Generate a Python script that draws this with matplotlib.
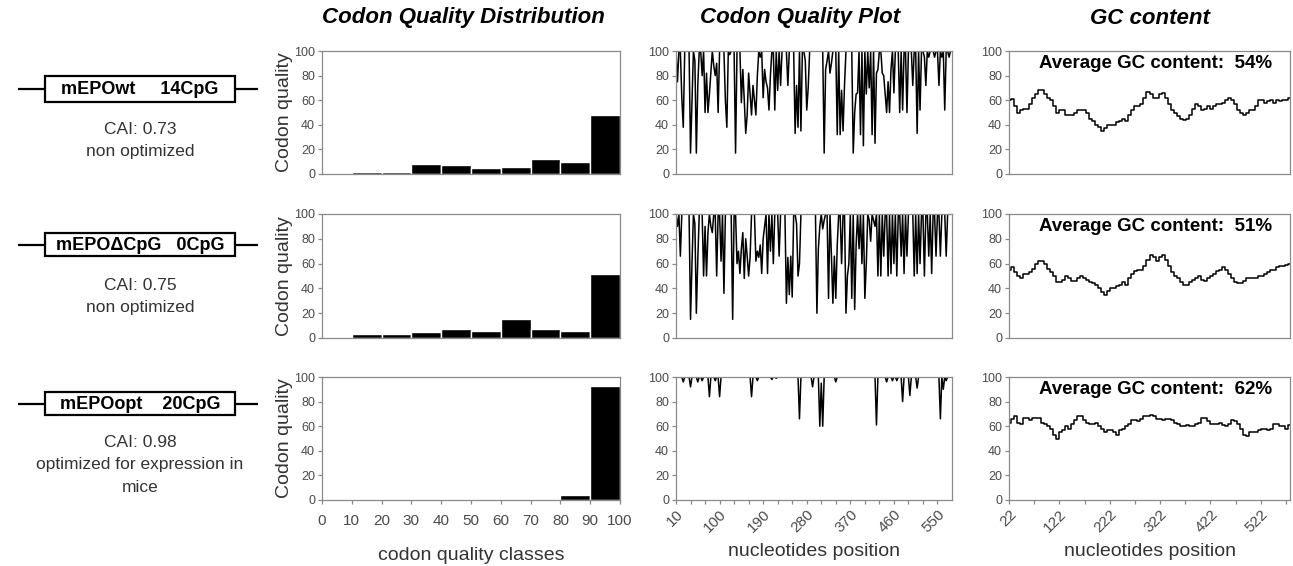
import numpy as np
import matplotlib
matplotlib.use('Agg')
import matplotlib.pyplot as plt
from matplotlib.patches import Rectangle

plt.rcParams['font.family'] = ['Liberation Sans', 'DejaVu Sans']

# ---- data ----
constructs = ['mEPOwt     14CpG', 'mEPOΔCpG   0CpG', 'mEPOopt    20CpG']
cai_text = ['CAI: 0.73\nnon optimized', 'CAI: 0.75\nnon optimized',
            'CAI: 0.98\noptimized for expression in\nmice']
gc_avg = [54, 51, 62]

classes = [0, 10, 20, 30, 40, 50, 60, 70, 80, 90]
dist_wt = [0, 2, 2, 8, 7, 5, 6, 12, 10, 48]
dist_dcpg = [0, 3, 3, 5, 7, 6, 15, 7, 6, 52]
dist_opt = [0, 0, 0, 0, 0, 1, 1, 0, 4, 93]

cq_pos = np.arange(10, 580, 3)
cq_wt = [100, 75, 100, 100, 62, 38, 100, 100, 100, 100,
         17, 60, 100, 92, 17, 72, 100, 100, 80, 100,
         50, 82, 50, 65, 82, 100, 88, 80, 90, 50,
         100, 100, 100, 100, 60, 38, 100, 97, 100, 100,
         100, 17, 100, 100, 100, 58, 85, 60, 33, 48,
         82, 65, 48, 72, 60, 48, 80, 100, 95, 100,
         62, 85, 75, 70, 52, 80, 100, 100, 52, 100,
         68, 100, 72, 100, 100, 100, 100, 72, 100, 100,
         100, 100, 33, 72, 38, 100, 35, 100, 100, 92,
         52, 70, 100, 100, 100, 100, 100, 100, 100, 100,
         100, 100, 17, 85, 92, 100, 82, 90, 100, 100,
         100, 32, 100, 32, 68, 35, 72, 100, 100, 100,
         100, 100, 17, 50, 65, 66, 100, 32, 100, 23,
         100, 65, 100, 70, 100, 32, 100, 25, 82, 85,
         100, 100, 82, 80, 65, 50, 75, 50, 85, 100,
         66, 100, 100, 100, 50, 100, 52, 100, 100, 50,
         100, 100, 100, 72, 100, 100, 33, 100, 52, 100,
         100, 95, 72, 100, 95, 100, 100, 100, 95, 100,
         100, 72, 100, 95, 100, 52, 100, 100, 95, 100]
cq_dcpg = [100, 90, 100, 66, 100, 100, 100, 100, 100, 100,
           15, 60, 100, 92, 20, 63, 100, 100, 100, 50,
           90, 50, 85, 100, 90, 85, 100, 100, 50, 100,
           100, 62, 100, 36, 100, 100, 100, 100, 100, 15,
           100, 100, 60, 70, 52, 72, 85, 48, 80, 66,
           50, 65, 100, 100, 100, 62, 70, 65, 75, 52,
           80, 90, 100, 52, 100, 70, 100, 60, 100, 100,
           100, 66, 100, 100, 100, 100, 28, 65, 35, 66,
           33, 100, 100, 92, 50, 60, 100, 100, 100, 100,
           100, 100, 100, 100, 100, 100, 100, 20, 72, 90,
           100, 88, 95, 100, 100, 32, 100, 66, 28, 66,
           32, 75, 100, 100, 60, 100, 100, 20, 50, 60,
           100, 32, 100, 23, 75, 100, 72, 100, 60, 100,
           32, 60, 100, 95, 78, 100, 95, 90, 100, 50,
           100, 50, 100, 66, 100, 100, 50, 100, 52, 100,
           60, 100, 50, 100, 100, 66, 100, 52, 100, 66,
           100, 100, 100, 100, 50, 100, 52, 100, 60, 100,
           100, 50, 100, 100, 66, 100, 52, 100, 100, 66,
           100, 100, 66, 100, 100, 100, 66, 100, 100, 100]
cq_opt = [100, 100, 100, 100, 100, 96, 100, 100, 100, 100,
          92, 100, 100, 100, 100, 96, 100, 100, 97, 100,
          100, 100, 100, 84, 100, 100, 100, 97, 100, 100,
          84, 100, 100, 100, 100, 100, 100, 100, 100, 100,
          100, 100, 100, 100, 100, 100, 100, 100, 100, 100,
          100, 100, 84, 100, 100, 100, 97, 100, 100, 100,
          100, 100, 100, 100, 100, 100, 98, 100, 100, 99,
          100, 100, 100, 100, 100, 100, 100, 100, 100, 100,
          100, 100, 100, 100, 100, 66, 100, 100, 100, 100,
          100, 100, 100, 100, 92, 100, 100, 100, 100, 60,
          95, 60, 100, 100, 100, 100, 100, 100, 100, 100,
          96, 100, 100, 100, 100, 100, 100, 100, 100, 100,
          100, 100, 100, 100, 100, 100, 100, 100, 100, 100,
          100, 100, 100, 100, 100, 100, 100, 100, 61, 100,
          100, 100, 100, 100, 100, 96, 100, 100, 100, 97,
          100, 100, 97, 100, 100, 100, 80, 100, 100, 100,
          100, 85, 100, 100, 100, 100, 91, 100, 100, 100,
          100, 100, 100, 100, 100, 100, 100, 100, 100, 100,
          100, 100, 66, 100, 90, 100, 97, 100, 100, 100]

gc_pos = np.arange(22, 586, 6)
gc_wt = [60, 61, 55, 50, 52, 53, 53, 57, 62, 65, 68, 68, 65, 62, 60, 55, 50, 52, 52, 48,
         48, 48, 50, 52, 52, 52, 50, 45, 43, 40, 38, 35, 37, 40, 40, 40, 42, 43, 45, 43,
         48, 52, 55, 55, 57, 62, 67, 65, 62, 62, 65, 66, 62, 57, 52, 50, 47, 45, 44, 45,
         48, 53, 57, 55, 52, 53, 55, 53, 55, 57, 57, 58, 60, 62, 60, 57, 52, 50, 48, 50,
         52, 52, 55, 60, 60, 58, 59, 60, 58, 60, 59, 60, 60, 62]
gc_dcpg = [55, 57, 53, 50, 48, 52, 52, 53, 56, 60, 62, 62, 60, 56, 53, 50, 45, 45, 47, 50,
           48, 46, 46, 48, 50, 48, 47, 45, 44, 43, 40, 37, 35, 38, 40, 40, 42, 43, 45, 43,
           48, 52, 54, 55, 55, 58, 63, 67, 65, 62, 65, 67, 63, 58, 53, 50, 48, 45, 43, 43,
           45, 47, 48, 50, 47, 46, 48, 50, 52, 54, 55, 57, 55, 52, 48, 45, 44, 44, 46, 48,
           48, 48, 48, 50, 50, 52, 53, 55, 55, 57, 58, 58, 59, 60]
gc_opt = [63, 66, 68, 63, 62, 67, 67, 65, 67, 67, 67, 63, 62, 60, 58, 53, 50, 55, 57, 60,
          58, 62, 65, 68, 68, 65, 63, 62, 62, 63, 60, 58, 55, 57, 57, 55, 53, 57, 58, 60,
          62, 65, 65, 64, 66, 68, 68, 69, 68, 66, 66, 65, 66, 66, 65, 63, 62, 60, 60, 61,
          60, 60, 62, 63, 67, 67, 64, 62, 62, 62, 63, 61, 60, 62, 65, 64, 62, 58, 53, 52,
          55, 55, 55, 57, 58, 58, 57, 58, 62, 62, 60, 60, 58, 61]

dists = [dist_wt, dist_dcpg, dist_opt]
cqs = [cq_wt, cq_dcpg, cq_opt]
gcs = [gc_wt, gc_dcpg, gc_opt]

W, H = 1293, 566
fig = plt.figure(figsize=(W / 100, H / 100), dpi=100)

def px(x0, y0, x1, y1):
    # pixel box -> figure fraction rect
    return [x0 / W, 1 - y1 / H, (x1 - x0) / W, (y1 - y0) / H]

rows_y = [(51, 174), (214, 338), (377, 500)]
col_x = [(322, 620), (676, 952), (1009, 1290)]

grey = '#8a8a8a'
tcol = '#4a4a4a'
dark = '#333333'

def style(ax):
    for s in ax.spines.values():
        s.set_color(grey)
        s.set_linewidth(0.9)
    ax.tick_params(axis='both', which='both', color=grey, labelcolor=tcol,
                   labelsize=9, direction='out', length=3, width=0.9, pad=2)

def rotate_labels(ax):
    for lab in ax.get_xticklabels():
        lab.set_rotation(45)
        lab.set_ha('right')
        lab.set_rotation_mode('anchor')
        lab.set_fontsize(11)
        lab.set_color(tcol)

for r in range(3):
    y0, y1 = rows_y[r]
    last = r == 2

    # distribution
    ax = fig.add_axes(px(col_x[0][0], y0, col_x[0][1], y1))
    ax.bar(classes, dists[r], width=10, align='edge', color='black',
           edgecolor='white', linewidth=1)
    ax.set_xlim(0, 100)
    ax.set_ylim(0, 100)
    ax.set_yticks(range(0, 101, 20))
    ax.set_xticks(range(0, 101, 10))
    style(ax)
    ax.tick_params(axis='x', labelsize=11, pad=7)
    if not last:
        ax.tick_params(axis='x', length=0, labelbottom=False)
    ax.set_ylabel('Codon quality', fontsize=14, color=dark, labelpad=1)
    if last:
        ax.set_xlabel('codon quality classes', fontsize=14, color=dark, labelpad=14)

    # codon quality plot
    ax = fig.add_axes(px(col_x[1][0], y0, col_x[1][1], y1))
    ax.plot(cq_pos, cqs[r], color='black', lw=1.1)
    ax.set_xlim(10, 580)
    ax.set_ylim(0, 100)
    ax.set_yticks(range(0, 101, 20))
    ax.set_xticks(range(10, 580, 90))
    ax.set_xticks(range(10, 580, 30), minor=True)
    style(ax)
    if last:
        rotate_labels(ax)
        ax.set_xlabel('nucleotides position', fontsize=14, color=dark, labelpad=6)
    else:
        ax.tick_params(axis='x', which='both', length=0, labelbottom=False)

    # GC content
    ax = fig.add_axes(px(col_x[2][0], y0, col_x[2][1], y1))
    ax.plot(gc_pos, gcs[r], color='black', lw=1.1, drawstyle='steps-mid')
    ax.set_xlim(22, 580)
    ax.set_ylim(0, 100)
    ax.set_yticks(range(0, 101, 20))
    ax.set_xticks(range(22, 580, 100))
    ax.set_xticks(range(22, 580, 50), minor=True)
    style(ax)
    ax.text(0.52, 0.9, 'Average GC content:  %d%%' % gc_avg[r], transform=ax.transAxes,
            ha='center', va='center', fontsize=13.5, fontweight='bold')
    if last:
        rotate_labels(ax)
        ax.set_xlabel('nucleotides position', fontsize=14, color=dark, labelpad=6)
    else:
        ax.tick_params(axis='x', which='both', length=0, labelbottom=False)

# column titles
for txt, xc in [('Codon Quality Distribution', 463), ('Codon Quality Plot', 800),
                ('GC content', 1150)]:
    fig.text(xc / W, 1 - 18 / H, txt, ha='center', va='center', fontsize=16,
             fontweight='bold', fontstyle='italic')

# left column: construct diagrams
lay = fig.add_axes([0, 0, 1, 1])
lay.set_xlim(0, W)
lay.set_ylim(H, 0)
lay.axis('off')
box_y = [(76, 102), (233, 256), (392, 415)]
txt_y = [130, 286, 443]
for r in range(3):
    b0, b1 = box_y[r]
    yc = (b0 + b1) / 2
    lay.plot([18, 258], [yc, yc], color='black', lw=1.6, solid_capstyle='butt')
    lay.add_patch(Rectangle((45, b0), 190, b1 - b0, facecolor='white',
                            edgecolor='black', lw=1.6, zorder=3))
    lay.text(140, yc + 1, constructs[r], ha='center', va='center', fontsize=13,
             fontweight='bold', zorder=4)
    lay.text(140, txt_y[r] - 8, cai_text[r], ha='center', va='top', fontsize=12.5,
             color=dark, linespacing=1.62)

fig.savefig('out.png', dpi=100, facecolor='white')
